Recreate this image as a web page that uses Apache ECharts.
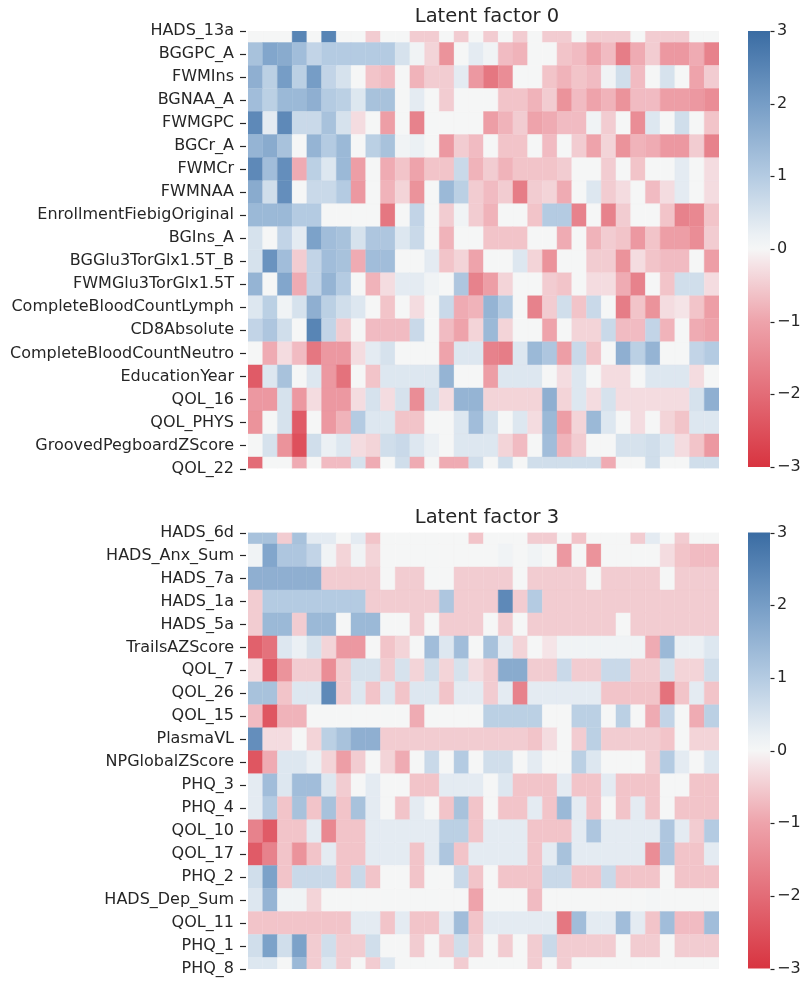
<!DOCTYPE html>
<html>
<head>
<meta charset="utf-8">
<script src="https://cdn.jsdelivr.net/npm/echarts@6/dist/echarts.min.js"></script>
<style>html,body{margin:0;padding:0;background:#fff}#main{width:808px;height:982px}</style>
</head>
<body>
<div id="main"></div>
<script>
// ---------- Latent factor 0 ----------
const factor0Labels = ['HADS_13a','BGGPC_A','FWMIns','BGNAA_A','FWMGPC','BGCr_A','FWMCr','FWMNAA','EnrollmentFiebigOriginal','BGIns_A','BGGlu3TorGlx1.5T_B','FWMGlu3TorGlx1.5T','CompleteBloodCountLymph','CD8Absolute','CompleteBloodCountNeutro','EducationYear','QOL_16','QOL_PHYS','GroovedPegboardZScore','QOL_22'];
const f0_HADS_13a = [0,0,0,2.5,0,2.5,0,0,-0.5,0,0,-0.5,-0.5,0,-0.5,0,-0.5,0,-0.5,0,-0.5,-0.5,0,-0.5,-0.5,-0.5,0,-0.5,-0.5,-0.5,0,0];
const f0_BGGPC_A = [1.2,1.8,1.7,1.3,0.8,1.0,1.0,1.0,1.0,1.0,0.5,0.1,-0.4,-1.3,0,0.3,0.1,-0.7,-0.8,0,0,-0.6,-0.7,-1.0,-0.7,-1.7,-0.9,-0.5,-1.2,-1.2,-0.9,-1.6];
const f0_FWMIns = [1.6,0.9,2.0,0.9,2.0,0.8,0.5,0,-0.6,-0.7,0,-0.8,-0.5,-0.5,0.3,-1.2,-1.8,-1.4,0,0,-0.6,-0.8,-0.6,-0.7,0.1,0.6,-0.7,0,0.5,0,-1.0,-0.5];
const f0_BGNAA_A = [1.3,0.9,1.4,1.4,1.6,1.0,0.9,0.4,1.2,1.2,0,0.3,0,-0.5,0,0,0,-0.6,-0.6,-0.8,-0.5,-1.3,-0.7,-1.0,-0.8,-1.3,-0.7,-0.7,-1.1,-1.1,-1.2,-1.4];
const f0_FWMGPC = [2.4,0.3,2.4,0.7,0.7,1.2,0.5,-0.3,0,-1.1,0,-1.6,0,0,0,0,-1.1,-0.8,-0.5,-1.0,-0.9,-0.7,-0.7,0.1,-0.5,0,-1.4,0.4,0,0.6,0,-0.6];
const f0_BGCr_A = [1.5,1.7,1.2,0,1.5,1.0,1.4,0,0.9,1.2,0.1,0.2,0,-1.2,-0.5,-0.7,0,-0.6,-0.6,0,-0.7,0,-0.5,-1.0,-0.4,-1.3,-0.8,-0.9,-1.2,-1.2,-0.5,-1.6];
const f0_FWMCr = [2.4,1.3,2.3,-0.9,0.9,0.4,1.4,-1.1,0,-0.9,-0.6,-1.0,-0.6,-0.6,0.7,-0.8,-0.5,-0.8,-0.6,-0.6,-0.6,-0.5,0,0,-0.5,0,-0.6,0,0,0.3,0,-0.3];
const f0_FWMNAA = [1.7,0.6,2.3,0,0.7,0.7,1.0,-1.2,0,-0.8,-0.4,-1.3,0,1.4,0.9,-0.5,-0.7,-0.5,-1.7,-0.5,-0.4,-0.9,0,0.4,-0.5,-0.3,0,-0.7,-0.3,0.3,0,-0.3];
const f0_EnrollmentFiebigOriginal = [1.4,1.4,1.4,1.0,1.0,0,0,0,0,-1.8,0,0.8,0,-0.5,0.1,-0.5,-0.8,0,0,-0.6,1.0,1.0,-1.6,0,-1.6,-0.5,0,0,-0.6,-1.6,-1.5,-0.6];
const f0_BGIns_A = [0.5,0,0.8,0.3,1.9,1.3,1.2,0.5,1.1,1.1,0.4,0.7,0,-0.8,0,0,-0.6,-0.6,-0.6,0,0,-0.9,0,-0.8,-0.5,-0.6,-1.2,-0.6,-1.1,-1.1,-1.4,-0.5];
const f0_BGGlu3TorGlx15T_B = [0.5,2.2,1.3,-0.5,0.8,1.3,1.2,-0.9,1.3,1.3,0,0,0.3,-0.6,-0.4,-1.0,0,0,0.4,-0.4,-1.3,0,0,-0.5,-0.5,-1.3,-0.3,-0.6,-0.7,-0.7,0,-1.1];
const f0_FWMGlu3TorGlx15T = [1.5,0,1.8,-0.9,0.8,1.5,1.0,0,-0.8,-0.3,0.3,0.3,0.1,0,1.1,-1.6,-1.1,-0.4,0,0,-0.5,-0.6,0,-0.3,-0.3,-0.9,-1.6,0,-0.6,0.6,0.6,-0.3];
const f0_CompleteBloodCountLymph = [0.4,0.9,0.1,0.5,1.6,0.9,0.6,0.4,0,-0.6,0,-0.3,0,0.7,-0.9,-0.8,1.5,1.0,0,-1.6,-0.5,0.6,-0.6,0.7,0,-1.7,-0.6,-1.3,-0.3,-0.2,-0.6,-1.1];
const f0_CD8Absolute = [0.8,1.1,0.6,0,2.5,0.8,-0.5,0,-0.7,-0.7,-0.7,0.7,0,-0.7,-1.0,-0.4,1.4,-0.4,0,0,-1.0,0,-0.4,-0.4,0.7,-0.7,-0.7,0.8,-0.8,0,-0.9,-1.0];
const f0_CompleteBloodCountNeutro = [0,-0.9,-0.3,-0.7,-1.8,-1.2,-1.2,-0.3,0.3,0.5,0,0,0,-1.0,0.4,0.4,-1.6,-1.7,0.4,1.4,1.1,-1.1,0.7,-0.6,0,1.6,0.9,1.5,0,0,0.8,1.0];
const f0_EducationYear = [-2.3,0.4,1.2,0,0.4,-1.2,-1.9,0,-0.6,0.4,0.4,0.4,0.4,1.5,0,0,-1.1,0.4,0.4,0.4,0,-0.3,0.4,0,-0.3,-0.3,0,0.4,0.4,0.4,-0.3,0];
const f0_QOL_16 = [-1.2,-1.2,0.5,-1.2,-0.3,-1.2,-1.2,-0.3,0.5,-0.3,0.5,-1.4,0.5,-0.3,1.5,1.5,-0.4,-0.4,-0.4,-0.4,1.6,-0.4,0.4,-0.3,0.5,-0.3,-0.3,-0.3,-0.3,-0.3,0.5,1.6];
const f0_QOL_PHYS = [-1.3,0,0.5,-2.3,0,-1.2,-0.8,1.0,0.4,0.4,-0.6,-0.6,0,0,0.4,1.3,0.5,0,0.4,-0.3,1.4,-1.1,-0.4,1.4,0.4,0,-0.3,0,-0.4,-0.6,0.4,0.4];
const f0_GroovedPegboardZScore = [0,0.5,-1.3,-2.5,0.6,0.2,0.4,-0.3,-0.4,0.6,0.7,0.4,0.2,0,0.4,0.4,0.4,-0.4,-0.7,0,1.3,-0.8,-0.5,0,0,0.5,0.5,0.6,0.4,-0.3,-0.6,-1.2];
const f0_QOL_22 = [-2.0,0,0,-0.9,0,-0.7,-0.7,0.5,-0.9,0,0.6,-0.9,0,-0.9,-0.9,0.6,0,0.6,0,0.6,0.6,0.6,0.6,0.6,-0.9,0,0,0.6,0,0,0.6,0.6];

// ---------- Latent factor 3 ----------
const factor3Labels = ['HADS_6d','HADS_Anx_Sum','HADS_7a','HADS_1a','HADS_5a','TrailsAZScore','QOL_7','QOL_26','QOL_15','PlasmaVL','NPGlobalZScore','PHQ_3','PHQ_4','QOL_10','QOL_17','PHQ_2','HADS_Dep_Sum','QOL_11','PHQ_1','PHQ_8'];
const f3_HADS_6d = [1.2,1.2,-0.5,1.2,0.3,0.3,0,0.3,-0.6,0,0,0,0,0,0,-0.6,0,0,0,-0.5,-0.5,0,-0.6,0,0,0,-0.5,0.3,0,-0.5,0,0];
const f3_HADS_Anx_Sum = [0.1,1.8,1.1,1.1,0.8,0.1,-0.4,0.1,-0.4,0,0,0,0,0,0,0,0,0.1,0,0.1,0,-1.2,0,-1.3,0,0,0,0,-0.3,-0.6,-0.7,-0.7];
const f3_HADS_7a = [1.6,1.6,1.6,1.6,1.6,-0.5,-0.5,-0.5,-0.5,0,-0.5,-0.5,0,0,-0.5,-0.5,-0.5,-0.5,0,-0.5,-0.5,-0.5,-0.5,0,-0.5,-0.5,-0.5,-0.5,0,-0.5,-0.5,-0.5];
const f3_HADS_1a = [-0.5,1.0,1.0,1.0,1.0,1.0,1.0,1.0,-0.5,-0.5,-0.5,-0.5,-0.5,1.1,-0.5,-0.5,-0.5,2.4,-0.5,1.0,-0.5,-0.5,-0.5,-0.5,-0.5,-0.5,-0.5,-0.5,-0.5,-0.5,-0.5,-0.5];
const f3_HADS_5a = [-0.5,1.4,1.4,-0.5,1.4,1.4,0,1.4,1.4,0,0,-0.5,0,-0.5,-0.5,-0.5,0,-0.5,0,-0.5,-0.5,-0.5,-0.5,-0.5,-0.5,0,-0.5,-0.5,-0.5,-0.5,-0.5,-0.5];
const f3_TrailsAZScore = [-2.2,-1.9,0.4,0.2,0.5,-0.4,-1.2,-1.2,0,-0.6,-0.4,0,1.3,0.4,1.3,0,1.2,0.3,-0.4,0,-0.2,0.1,0.1,0.1,0.1,0.1,0.1,-0.9,1.4,0.2,0.2,0.4];
const f3_QOL_7 = [-0.3,-2.3,-1.3,-0.5,-0.5,-1.4,-0.5,0.5,0.5,-0.5,0.5,-0.4,0.6,-0.4,0.5,-0.3,-0.5,1.7,1.7,-0.5,-0.5,0.7,-0.5,-0.5,0.7,0.7,-0.5,-0.5,0.5,-0.4,-0.4,0.6];
const f3_QOL_26 = [1.2,1.2,-0.6,0.4,0.4,2.4,-0.5,0.4,-0.6,0.4,-0.6,0.4,0.4,-0.6,0.3,0.3,-0.5,0.3,-1.6,0.3,0.3,0.3,0.3,0.3,-0.6,-0.6,-0.6,-0.6,-1.9,-0.6,0.3,-0.6];
const f3_QOL_15 = [-0.7,-2.4,-0.8,-0.8,0,0,0,0,0,0,0,-0.9,0,0,0,0,0.9,0.9,0.9,0.9,0,0,0.9,0.9,0,0.9,0,-0.9,0.8,0,-0.9,0.9];
const f3_PlasmaVL = [2.3,-0.3,-0.3,0,-0.4,0.9,1.2,1.6,1.6,-0.5,-0.5,-0.5,-0.5,-0.5,-0.5,-0.5,-0.5,-0.5,-0.5,-0.6,-0.3,0,-0.5,0.9,-0.5,-0.5,-0.5,-0.5,-0.6,0,-0.4,-0.4];
const f3_NPGlobalZScore = [-2.4,-0.9,0.4,0.4,0.2,-0.4,-1.1,-0.5,0,-0.4,-0.9,0,0.7,0,1.0,0,0.6,0.6,0,0.3,0,0,0.9,0.4,0,0,0,-0.5,1.0,0.3,0,0.4];
const f3_PHQ_3 = [0.3,1.3,0.4,1.3,1.3,0.4,-0.5,0,0.3,0,0,-0.6,-0.6,0.3,0.3,0.3,0,0.4,-0.6,-0.6,-0.6,0.3,-0.6,-0.6,0.3,-0.6,-0.6,-0.6,0,0,-0.6,-0.6];
const f3_PHQ_4 = [0.3,1.0,-0.6,1.2,-0.6,1.2,-0.6,1.2,0.3,0,-0.6,0.3,0,-0.6,1.2,-0.6,0,-0.6,-0.6,0.3,-0.6,1.4,0.3,-0.6,0,-0.6,0.3,-0.6,0,-0.6,-0.6,-0.6];
const f3_QOL_10 = [-1.6,-2.3,-0.6,-0.6,0.3,-1.5,-0.6,-0.6,0.3,0.3,0.3,0.3,0.3,0.9,0.9,-0.6,0.3,0.3,0.3,-0.6,-0.6,-0.6,0.3,1.1,0.3,0.3,0.3,0.3,1.1,0.3,-0.5,1.0];
const f3_QOL_17 = [-2.3,-1.6,-0.6,-1.3,-0.6,0.3,-0.6,-0.6,0.3,0.3,0.3,-0.6,0.3,1.1,-0.6,0.3,0.3,0.3,0.3,-0.6,0.3,1.2,0.3,0.3,0.3,0.3,0.3,-1.4,1.1,-0.6,-0.6,0.3];
const f3_PHQ_2 = [0.6,1.9,-0.6,0.7,0.7,0.7,-0.6,0.7,-0.6,0,0,-0.6,0,0,0.7,-0.6,0,-0.6,-0.6,-0.6,0.7,0.7,-0.6,-0.6,0.7,-0.6,-0.6,-0.6,0,-0.6,-0.6,-0.6];
const f3_HADS_Dep_Sum = [0.4,1.5,0.1,0.1,-0.4,0,0,0,0,0,0,0,0,0,0,-1.0,0,0,0,-0.7,0,0,0,0,0,0,0,0.05,0,0,0,0];
const f3_QOL_11 = [-0.6,-0.6,-0.6,-0.6,-0.6,-0.6,-0.6,0.3,0.3,-0.6,0.3,-0.6,-0.6,0.3,1.3,-0.6,0.3,0.3,0.3,0.3,0.3,-1.8,1.3,0.3,0.3,1.3,0.3,-0.6,1.3,-0.7,-0.7,1.3];
const f3_PHQ_1 = [0.6,1.9,0.6,1.9,-0.5,0.6,-0.5,-0.5,0.6,0,0,-0.5,0,-0.5,0.6,-0.5,0,-0.5,0,-0.5,0.7,-0.5,-0.5,-0.5,-0.5,0,-0.5,-0.5,0,-0.5,-0.5,-0.5];
const f3_PHQ_8 = [0.4,0.4,0,1.4,-0.5,0.4,-0.5,0,-0.5,0.4,0,0,0,0,-0.5,0,0,0,0,-0.5,0,-0.5,0,0,0,0,0,0,0,0,0,0];

const colorbarTicks = [-3,-2,-1,0,1,2,3];

const factor0Matrix = [f0_HADS_13a,f0_BGGPC_A,f0_FWMIns,f0_BGNAA_A,f0_FWMGPC,f0_BGCr_A,f0_FWMCr,f0_FWMNAA,f0_EnrollmentFiebigOriginal,f0_BGIns_A,f0_BGGlu3TorGlx15T_B,f0_FWMGlu3TorGlx15T,f0_CompleteBloodCountLymph,f0_CD8Absolute,f0_CompleteBloodCountNeutro,f0_EducationYear,f0_QOL_16,f0_QOL_PHYS,f0_GroovedPegboardZScore,f0_QOL_22];
const factor3Matrix = [f3_HADS_6d,f3_HADS_Anx_Sum,f3_HADS_7a,f3_HADS_1a,f3_HADS_5a,f3_TrailsAZScore,f3_QOL_7,f3_QOL_26,f3_QOL_15,f3_PlasmaVL,f3_NPGlobalZScore,f3_PHQ_3,f3_PHQ_4,f3_QOL_10,f3_QOL_17,f3_PHQ_2,f3_HADS_Dep_Sum,f3_QOL_11,f3_PHQ_1,f3_PHQ_8];

// colour map (diverging red - white - blue)
const cmap = [
  [-3,[216,52,64]],[-2,[227,108,119]],[-1,[238,163,171]],[-0.2,[245,228,231]],[0,[245,246,246]],
  [0.2,[235,240,244]],[1,[180,203,226]],[2,[118,157,198]],[3,[58,108,163]]
];
function colorFor(v){
  v = Math.max(-3, Math.min(3, v));
  for (let i = 0; i < cmap.length - 1; i++){
    const a = cmap[i], b = cmap[i+1];
    if (v >= a[0] && v <= b[0]){
      const t = (v - a[0]) / (b[0] - a[0]);
      const c = a[1].map((x, k) => Math.round(x + (b[1][k] - x) * t));
      return 'rgb(' + c.join(',') + ')';
    }
  }
  return 'rgb(245,246,246)';
}

function toData(matrix){
  const out = [];
  matrix.forEach((row, r) => row.forEach((v, c) => out.push([c, r, v])));
  return out;
}

function renderCell(params, api){
  const c = api.value(0), r = api.value(1), v = api.value(2);
  const p0 = api.coord([c, r - 0.5]);
  const p1 = api.coord([c + 1, r + 0.5]);
  const cs = params.coordSys;
  const rect = echarts.graphic.clipRectByRect(
    {x: p0[0], y: Math.min(p0[1], p1[1]), width: p1[0] - p0[0], height: Math.abs(p1[1] - p0[1])},
    {x: cs.x, y: cs.y, width: cs.width, height: cs.height}
  );
  if (!rect) return;
  const col = colorFor(v);
  return {type: 'rect', shape: rect, style: {fill: col, stroke: col, lineWidth: 0.4}};
}

function renderBar(params, api){
  const p0 = api.coord([0, 3]);
  const p1 = api.coord([1, -3]);
  const stops = [];
  for (let i = cmap.length - 1; i >= 0; i--){
    const c = cmap[i][1];
    stops.push({offset: (3 - cmap[i][0]) / 6, color: 'rgb(' + c.join(',') + ')'});
  }
  return {type: 'rect', shape: {x: p0[0], y: p0[1], width: p1[0] - p0[0], height: p1[1] - p0[1]},
    style: {fill: new echarts.graphic.LinearGradient(0, 0, 0, 1, stops)}};
}

const FONT = 'DejaVu Sans';
const TXT = '#262626';

// tick marks (positions from the axes' own scales)
function renderRowTick(params, api){
  const p = api.coord([0, api.value(0)]);
  const y = Math.round(p[1]) + 0.5;
  return {type: 'line', shape: {x1: p[0] - 8, y1: y, x2: p[0] - 2, y2: y},
    style: {stroke: TXT, lineWidth: 1.2}};
}
function renderBarTick(params, api){
  const p = api.coord([1, api.value(0)]);
  const y = Math.round(p[1]) + 0.5;
  return {type: 'line', shape: {x1: p[0] + 0.5, y1: y, x2: p[0] + 4.5, y2: y},
    style: {stroke: TXT, lineWidth: 1.2}};
}

function rowAxis(gridIndex, labels){
  return {
    type: 'value', gridIndex, inverse: true, min: 0, max: 19, interval: 1,
    axisLine: {show: false}, splitLine: {show: false}, axisTick: {show: false},
    axisLabel: {fontSize: 16, color: TXT, fontFamily: FONT, margin: 14,
      formatter: v => labels[v] || ''}
  };
}
function barAxis(gridIndex){
  return {
    type: 'value', gridIndex, position: 'right', min: -3, max: 3, interval: 1,
    axisLine: {show: false}, splitLine: {show: false}, axisTick: {show: false},
    axisLabel: {fontSize: 16, color: TXT, fontFamily: FONT, margin: 7,
      formatter: v => colorbarTicks.includes(v) ? (v < 0 ? '\u2212' + Math.abs(v) : String(v)) : ''}
  };
}
function hiddenX(gridIndex, max){
  return {type: 'value', gridIndex, min: 0, max, show: false, splitLine: {show: false}};
}

const rowIdx0 = factor0Labels.map((_, i) => [i]);
const rowIdx3 = factor3Labels.map((_, i) => [i]);
const barTickData = colorbarTicks.map(v => [v]);

const chart = echarts.init(document.getElementById('main'), null, {renderer: 'canvas'});
chart.setOption({
  animation: false,
  backgroundColor: '#fff',
  title: [
    {text: 'Latent factor 0', left: 482, top: 2, textAlign: 'center',
      textStyle: {fontSize: 19.5, fontWeight: 'normal', color: TXT, fontFamily: FONT}},
    {text: 'Latent factor 3', left: 482, top: 503, textAlign: 'center',
      textStyle: {fontSize: 19.5, fontWeight: 'normal', color: TXT, fontFamily: FONT}}
  ],
  grid: [
    {left: 248, top: 31, width: 471, height: 437.5},
    {left: 248, top: 532.5, width: 471, height: 436.5},
    {left: 748, top: 31, width: 22, height: 436},
    {left: 748, top: 532.5, width: 22, height: 436}
  ],
  xAxis: [hiddenX(0, 32), hiddenX(1, 32), hiddenX(2, 1), hiddenX(3, 1)],
  yAxis: [rowAxis(0, factor0Labels), rowAxis(1, factor3Labels), barAxis(2), barAxis(3)],
  series: [
    {type: 'custom', xAxisIndex: 0, yAxisIndex: 0, renderItem: renderCell, data: toData(factor0Matrix), clip: true},
    {type: 'custom', xAxisIndex: 1, yAxisIndex: 1, renderItem: renderCell, data: toData(factor3Matrix), clip: true},
    {type: 'custom', xAxisIndex: 2, yAxisIndex: 2, renderItem: renderBar, data: [[0]]},
    {type: 'custom', xAxisIndex: 3, yAxisIndex: 3, renderItem: renderBar, data: [[0]]},
    {type: 'custom', xAxisIndex: 0, yAxisIndex: 0, renderItem: renderRowTick, data: rowIdx0, clip: false, silent: true},
    {type: 'custom', xAxisIndex: 1, yAxisIndex: 1, renderItem: renderRowTick, data: rowIdx3, clip: false, silent: true},
    {type: 'custom', xAxisIndex: 2, yAxisIndex: 2, renderItem: renderBarTick, data: barTickData, clip: false, silent: true},
    {type: 'custom', xAxisIndex: 3, yAxisIndex: 3, renderItem: renderBarTick, data: barTickData, clip: false, silent: true}
  ]
});
</script>
</body>
</html>
